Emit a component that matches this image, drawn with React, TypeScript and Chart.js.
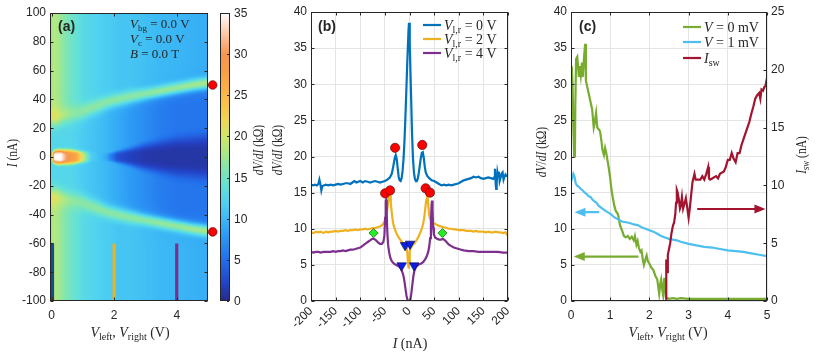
import React, { useEffect, useRef } from 'react';
import { Chart, registerables } from 'chart.js';
Chart.register(...registerables);

type Seg = [string, string];
type P = [number, number];

const SANS = '"Liberation Sans", Arial, Helvetica, sans-serif';
const SERIF = '"Liberation Serif", "Times New Roman", serif';
const AX = '#262626';
const GRID = '#e4e4e4';
const C_BLUE = '#0072BD';
const C_ORANGE = '#EDB120';
const C_PURPLE = '#7E2F8E';
const C_GREEN = '#77AC30';
const C_LBLUE = '#4DBEEE';
const C_RED = '#A2142F';

// ================= (a) heat map: features read column by column =================
const hmV = [0, 0.05, 0.1, 0.2, 0.3, 0.45, 0.6, 0.8, 1.0, 1.25, 1.5, 1.75, 1.9, 2.1, 2.5, 3.0, 3.5, 4.0, 4.5, 5.0];
const hmRidgeI = [29, 29, 29, 29, 29.5, 30, 30.5, 31, 32, 34, 36, 38, 39, 40, 42, 44, 46, 48, 50, 51.5];
const hmRidgeZ = [20, 21, 21, 20, 19, 18, 17, 16.5, 16.5, 16.5, 16.5, 16.5, 16.5, 16.5, 16.5, 16.5, 17, 17, 17.5, 18];
const hmRidgeW = [7, 7, 7, 7, 6.5, 6, 6, 6, 5.5, 5, 5, 4.5, 4.5, 4.5, 4.5, 4, 4, 4, 4, 4];
const hmOuterZ = [17, 18.5, 18.5, 18, 17, 16, 15, 14, 13, 12.5, 12, 11.5, 11.5, 11, 11, 10.5, 10, 9.8, 9.5, 9.2];
const hmInnerZ = [12.5, 12.5, 12.5, 12.5, 12.5, 12.5, 12.5, 12, 11.5, 11, 10.5, 10, 9.5, 9, 8, 7, 6, 5.5, 5.5, 5.5];
const hmCoreZ = [13, 30, 35, 35, 35, 31, 29, 27, 20, 12, 10.5, 9, 6, 3, 1.8, 1.2, 1.0, 1.0, 1.0, 1.0];
const hmCoreW = [3, 4, 4.5, 5, 5, 5, 5, 4.5, 4, 3.5, 3, 3, 3, 4, 6, 9, 11, 13, 14, 15];

const cmZ = [0, 2, 5, 8, 10, 12, 14, 16, 18, 20, 22, 24, 26, 28, 30, 32, 35];
const cmRGB: number[][] = [
  [40, 42, 135], [35, 65, 195], [35, 110, 235], [45, 155, 245], [60, 185, 245], [80, 210, 240],
  [100, 225, 215], [130, 230, 175], [170, 232, 135], [210, 230, 105], [240, 215, 85], [250, 195, 75],
  [250, 175, 70], [248, 158, 70], [247, 150, 80], [250, 190, 150], [255, 255, 255],
];
const cbTicks = [0, 5, 10, 15, 20, 25, 30, 35];
const aXTicks = [0, 2, 4];
const aYTicks = [-100, -80, -60, -40, -20, 0, 20, 40, 60, 80, 100];
const aRedDots: P[] = [[5.15, 50], [5.15, -52]];
const aBarV = [0.03, 2, 4];
const aBarColors = ['#10508a', C_ORANGE, C_PURPLE];
const aBarI = [-60, -100];

// ================= (b) dV/dI vs I =================
const bXTicks = [-200, -150, -100, -50, 0, 50, 100, 150, 200];
const bYTicks = [0, 5, 10, 15, 20, 25, 30, 35, 40];
const bCurve0: P[] = [[-200,16.1],[-196,16.0],[-192,16.1],[-188,16.0],[-185,16.2],[-183,16.8],[-181,16.2],[-179,15.3],[-177,15.9],[-174,16.0],[-170,16.1],[-165,16.0],[-160,16.1],[-155,16.0],[-150,16.1],[-145,16.2],[-140,16.1],[-135,16.2],[-130,16.3],[-125,16.3],[-120,16.2],[-116,16.4],[-112,16.6],[-108,16.4],[-104,16.5],[-100,16.6],[-95,16.4],[-90,16.6],[-85,16.5],[-80,16.4],[-75,16.5],[-70,16.6],[-65,16.5],[-60,16.4],[-55,16.5],[-50,16.6],[-45,16.8],[-40,17.1],[-36,17.6],[-33,18.6],[-30,19.8],[-28,20.2],[-26,19.7],[-24,18.4],[-22,17.2],[-20,16.7],[-18,16.6],[-16,17.0],[-14,18.0],[-12,19.8],[-10,22.5],[-8,26],[-6,30],[-4,34],[-2,37.5],[-1,38.5],[0,38],[1,35.5],[3,29],[5,23.5],[7,19.8],[9,17.8],[11,16.9],[13,16.6],[15,16.6],[17,17.0],[19,17.8],[21,18.8],[23,19.8],[25,20.5],[27,20.6],[29,19.8],[31,18.6],[33,17.8],[36,17.3],[40,17.0],[45,16.7],[50,16.6],[55,16.4],[60,16.2],[65,16.0],[70,16.1],[75,16.0],[80,16.1],[85,16.0],[90,16.1],[95,16.2],[100,16.3],[105,16.5],[110,16.7],[115,16.8],[120,16.9],[125,17.0],[130,17.2],[135,17.1],[140,17.2],[145,17.0],[150,16.9],[155,17.0],[160,17.1],[165,17.0],[170,16.9],[172,17.1],[173.5,18.3],[175,16.2],[176,15.5],[177,16.4],[178.5,17.8],[180,17.2],[181.5,17.9],[183,16.6],[185,17.1],[187,17.6],[189,17.8],[191,16.8],[193,17.2],[195,17.5],[197,17.3],[200,17.3]];
const bCurve2: P[] = [[-200,9.5],[-195,9.4],[-190,9.6],[-185,9.5],[-180,9.6],[-175,9.4],[-170,9.6],[-165,9.5],[-160,9.6],[-155,9.6],[-150,9.7],[-145,9.6],[-140,9.7],[-135,9.7],[-130,9.8],[-125,9.7],[-120,9.8],[-115,9.8],[-110,9.9],[-105,9.8],[-100,9.9],[-95,9.9],[-90,10.0],[-85,9.9],[-80,10.0],[-75,10.1],[-70,10.1],[-65,10.2],[-60,10.3],[-56,10.5],[-52,10.8],[-49,11.3],[-47,11.9],[-45,12.8],[-43,13.8],[-41,14.5],[-39.5,14.6],[-38,13.6],[-36,12.2],[-34,11.1],[-32,10.4],[-29,9.8],[-26,9.3],[-23,8.9],[-20,8.6],[-17,8.3],[-14,8.1],[-11,7.8],[-8,7.6],[-6,7.4],[-4.5,6.8],[-3,5.2],[-1.5,4.5],[-0.5,5.4],[0.5,6.8],[2,7.3],[4,7.5],[7,7.8],[10,8.0],[13,8.3],[16,8.6],[19,9.0],[22,9.5],[25,10.0],[28,10.8],[30,11.6],[32,12.8],[34,14.0],[35.5,14.5],[37,14.2],[38.5,13.0],[40,11.9],[42,11.3],[45,11.0],[48,10.8],[52,10.7],[56,10.5],[60,10.4],[65,10.3],[70,10.2],[75,10.1],[80,10.0],[85,10.0],[90,9.9],[95,9.9],[100,9.8],[105,9.8],[110,9.8],[115,9.7],[120,9.7],[125,9.7],[130,9.6],[135,9.7],[140,9.6],[145,9.6],[150,9.6],[155,9.5],[160,9.6],[165,9.5],[170,9.5],[175,9.6],[180,9.5],[185,9.5],[190,9.4],[195,9.5],[198,9.2],[200,9.3]];
const bCurve4: P[] = [[-200,6.8],[-195,6.7],[-190,6.8],[-185,6.8],[-180,6.7],[-175,6.8],[-170,6.8],[-165,6.8],[-160,6.8],[-155,6.9],[-150,6.8],[-145,6.9],[-140,6.9],[-135,7.0],[-130,6.9],[-125,7.0],[-120,7.1],[-115,7.1],[-110,7.2],[-105,7.3],[-100,7.4],[-96,7.6],[-92,7.8],[-88,8.0],[-84,8.2],[-80,8.4],[-76,8.6],[-72,8.6],[-68,8.4],[-64,8.1],[-60,7.9],[-56,7.9],[-53,8.2],[-51,9.0],[-49.5,11.5],[-48.2,13.8],[-47.2,14.0],[-46.2,12.0],[-45,9.5],[-43.5,7.8],[-41.5,6.8],[-39,6.0],[-36,5.5],[-32,5.2],[-28,5.0],[-24,4.9],[-20,4.7],[-17,4.4],[-14,3.9],[-12,3.4],[-10,2.6],[-8,1.6],[-6,0.7],[-4,0.1],[-2,0.0],[0,0.0],[2,0.3],[4,1.2],[6,2.4],[8,3.5],[10,4.2],[13,4.7],[16,4.9],[20,5.1],[24,5.2],[28,5.4],[32,5.8],[35,6.2],[38,6.8],[40,7.5],[42,8.7],[43.5,10.8],[44.8,13.3],[45.8,13.9],[46.8,12.6],[48,10.2],[49.5,9.2],[52,8.8],[56,8.6],[60,8.5],[64,8.5],[68,8.6],[72,8.4],[76,8.1],[80,7.8],[85,7.6],[90,7.4],[95,7.3],[100,7.2],[105,7.1],[110,7.0],[120,6.9],[130,6.9],[140,6.8],[150,6.8],[160,6.8],[170,6.8],[180,6.8],[190,6.7],[200,6.7]];
const bRedDots: P[] = [[-49.5, 14.9], [-39.5, 15.3], [-29.3, 21.2], [25.9, 21.6], [32.8, 15.6], [41.5, 15.0]];
const bTriangles: P[] = [[-9, 7.7], [1, 7.9], [-16, 4.9], [9.5, 4.9]];
const bDiamonds: P[] = [[-73, 9.4], [67, 9.4]];
const bLegend = ['0', '2', '4'];

// ================= (c) dV/dI and I_sw vs V =================
const cXTicks = [0, 1, 2, 3, 4, 5];
const cYTicks = [0, 5, 10, 15, 20, 25, 30, 35, 40];
const cY2Ticks = [0, 5, 10, 15, 20, 25];
const cGreen: P[] = [[0,29],[0.02,32.5],[0.04,30],[0.06,24],[0.08,20],[0.1,20.5],[0.11,27],[0.13,33.5],[0.16,33.8],[0.18,32.5],[0.2,31],[0.22,32.5],[0.25,31.2],[0.28,33],[0.3,31],[0.33,33.5],[0.36,35.6],[0.38,30.5],[0.42,29.5],[0.46,28.5],[0.5,27.5],[0.54,26.5],[0.58,24],[0.6,24.5],[0.64,26],[0.67,24],[0.7,23.8],[0.74,23.5],[0.78,22],[0.8,21],[0.84,20.2],[0.87,21.2],[0.9,20.5],[0.93,19.5],[0.97,18.2],[1.0,17],[1.03,15.5],[1.06,14.5],[1.1,13.3],[1.14,12.5],[1.2,12],[1.25,10.5],[1.3,9.8],[1.35,9.0],[1.4,8.8],[1.45,9.0],[1.5,8.6],[1.55,8.9],[1.6,8.4],[1.63,9.0],[1.67,7.8],[1.7,8.3],[1.73,7.4],[1.77,6.8],[1.8,7.0],[1.83,5.8],[1.86,5.0],[1.9,5.8],[1.93,6.3],[1.96,5.5],[2.0,5.2],[2.05,4.6],[2.1,4.3],[2.15,3.5],[2.2,3.0],[2.23,1.8],[2.25,1.0],[2.28,2.5],[2.3,3.0],[2.33,1.5],[2.35,0.8],[2.38,3.2],[2.4,2.0],[2.42,0.5],[2.45,0.4],[2.5,0.3],[2.6,0.4],[2.7,0.3],[2.8,0.4],[3.0,0.3],[3.5,0.3],[4.0,0.3],[4.5,0.3],[5.0,0.3]];
const cLBlue: P[] = [[0,16.5],[0.03,17.0],[0.06,17.6],[0.09,17.2],[0.12,16.3],[0.15,16.0],[0.2,15.8],[0.25,15.5],[0.3,15.3],[0.35,15.0],[0.4,14.8],[0.45,14.5],[0.5,14.4],[0.55,14.0],[0.6,13.8],[0.65,13.6],[0.7,13.2],[0.75,13.0],[0.8,12.8],[0.9,12.4],[1.0,12.1],[1.1,11.6],[1.2,11.3],[1.3,11.0],[1.4,10.9],[1.5,10.8],[1.6,10.6],[1.7,10.5],[1.8,10.2],[1.9,10.0],[2.0,9.8],[2.1,9.6],[2.2,9.3],[2.3,9.0],[2.4,8.8],[2.5,8.6],[2.6,8.5],[2.7,8.4],[2.8,8.2],[3.0,7.9],[3.2,7.7],[3.4,7.5],[3.6,7.4],[3.8,7.2],[4.0,7.0],[4.2,6.9],[4.4,6.8],[4.6,6.6],[4.8,6.4],[5.0,6.2]];
const cIsw: P[] = [[0,0],[2.43,0],[2.43,3.6],[2.45,2.5],[2.47,4.0],[2.5,4.5],[2.53,5.0],[2.56,5.8],[2.6,6.5],[2.63,6.8],[2.66,7.5],[2.68,8.5],[2.7,9.6],[2.72,9.4],[2.75,8.8],[2.78,8.0],[2.8,8.2],[2.83,9.0],[2.86,8.0],[2.9,8.5],[2.93,8.9],[2.96,8.2],[3.0,7.2],[3.03,8.0],[3.06,9.0],[3.1,10.3],[3.15,11.0],[3.18,10.5],[3.22,10.5],[3.3,10.5],[3.35,10.8],[3.4,10.5],[3.45,11.0],[3.5,11.6],[3.52,10.6],[3.55,10.5],[3.6,10.6],[3.7,10.8],[3.75,10.6],[3.8,11.0],[3.9,11.2],[3.95,11.6],[4.0,12.2],[4.05,12.2],[4.1,12.8],[4.15,12.3],[4.2,12.0],[4.25,12.8],[4.3,12.8],[4.35,13.5],[4.4,14.0],[4.45,14.5],[4.5,15.0],[4.55,15.5],[4.6,16.2],[4.65,16.8],[4.7,17.5],[4.75,17.8],[4.8,18.0],[4.83,17.5],[4.86,18.3],[4.9,18.2],[4.93,18.5],[4.96,18.6],[5.0,19.3]];
const cArrowFrom = [0.72, 1.72, 3.22];
const cArrowTo = [0.09, 0.07, 4.96];
const cArrowLevel = [12.3, 6.15, 7.96];
const cArrowAxis = ['y', 'y', 'y2'];
const cArrowColor = [C_LBLUE, C_GREEN, C_RED];

// ================= helpers =================
const toXY = (a: P[]) => a.map(([x, y]) => ({ x, y }));

function lin(xs: number[], ys: number[], v: number) {
  if (v <= xs[0]) return ys[0];
  for (let i = 1; i < xs.length; i++) {
    if (v <= xs[i]) {
      const t = (v - xs[i - 1]) / (xs[i] - xs[i - 1]);
      return ys[i - 1] + t * (ys[i] - ys[i - 1]);
    }
  }
  return ys[ys.length - 1];
}

function cmap(z: number): number[] {
  const zz = Math.max(0, Math.min(35, z));
  for (let i = 1; i < cmZ.length; i++) {
    if (zz <= cmZ[i]) {
      const t = (zz - cmZ[i - 1]) / (cmZ[i] - cmZ[i - 1]);
      const a = cmRGB[i - 1], b = cmRGB[i];
      return [a[0] + t * (b[0] - a[0]), a[1] + t * (b[1] - a[1]), a[2] + t * (b[2] - a[2])];
    }
  }
  return cmRGB[cmRGB.length - 1];
}

function heatZ(V: number, I: number) {
  const a = Math.abs(I);
  const rI = lin(hmV, hmRidgeI, V), rZ = lin(hmV, hmRidgeZ, V), rW = lin(hmV, hmRidgeW, V);
  const oZ = lin(hmV, hmOuterZ, V), iZ = lin(hmV, hmInnerZ, V);
  const cZ = lin(hmV, hmCoreZ, V), cW = lin(hmV, hmCoreW, V);
  const core = Math.exp(-Math.pow(a / cW, 4));
  const inside = iZ + (cZ - iZ) * core;
  const s = 1 / (1 + Math.exp(-(a - rI) / 3));
  const base = inside * (1 - s) + oZ * s;
  const r = Math.exp(-Math.pow((a - rI) / rW, 2));
  return base + (rZ - base) * r;
}

function drawRich(ctx: CanvasRenderingContext2D, segs: Seg[], x: number, y: number, size: number,
  align: 'left' | 'center' | 'right' = 'center', rot = 0, sx = 1, color = AX) {
  ctx.save();
  ctx.translate(x, y);
  ctx.rotate(rot);
  ctx.scale(sx, 1);
  ctx.fillStyle = color;
  ctx.textBaseline = 'alphabetic';
  ctx.textAlign = 'left';
  const font = (st: string) =>
    st === 'i' ? `italic ${size}px ${SERIF}` :
    st === 'b' ? `bold ${size}px ${SANS}` :
    st === 's' ? `${Math.round(size * 0.7)}px ${SERIF}` : `${size}px ${SERIF}`;
  let w = 0;
  for (const [t, st] of segs) { ctx.font = font(st); w += ctx.measureText(t).width; }
  let cx = align === 'center' ? -w / 2 : align === 'right' ? -w : 0;
  const base = size * 0.35;
  for (const [t, st] of segs) {
    ctx.font = font(st);
    ctx.fillText(t, cx, base + (st === 's' ? size * 0.25 : 0));
    cx += ctx.measureText(t).width;
  }
  ctx.restore();
}

function drawFrame(chart: any, xId: string, yLeft: string, yRight: string) {
  const { ctx, chartArea: ca, scales } = chart;
  const L = Math.round(ca.left) + 0.5, R = Math.round(ca.right) - 0.5;
  const T = Math.round(ca.top) + 0.5, B = Math.round(ca.bottom) - 0.5;
  ctx.save();
  ctx.strokeStyle = AX;
  ctx.lineWidth = 1;
  ctx.strokeRect(L, T, R - L, B - T);
  const tl = 3;
  ctx.beginPath();
  const xs = scales[xId];
  xs.ticks.forEach((t: any) => {
    const px = Math.round(xs.getPixelForValue(t.value)) + 0.5;
    ctx.moveTo(px, B); ctx.lineTo(px, B - tl);
    ctx.moveTo(px, T); ctx.lineTo(px, T + tl);
  });
  const yl = scales[yLeft];
  yl.ticks.forEach((t: any) => {
    const py = Math.round(yl.getPixelForValue(t.value)) + 0.5;
    ctx.moveTo(L, py); ctx.lineTo(L + tl, py);
  });
  const yr = scales[yRight];
  yr.ticks.forEach((t: any) => {
    const py = Math.round(yr.getPixelForValue(t.value)) + 0.5;
    ctx.moveTo(R, py); ctx.lineTo(R - tl, py);
  });
  ctx.stroke();
  ctx.restore();
}

const tickFont = { family: SANS, size: 12 };

function linAxis(min: number, max: number, ticks: number[], opts: any = {}) {
  return {
    type: 'linear',
    min, max,
    position: opts.position,
    display: opts.display !== undefined ? opts.display : true,
    afterBuildTicks: (s: any) => { s.ticks = ticks.map((v) => ({ value: v })); },
    afterFit: opts.afterFit,
    grid: { display: opts.grid !== false, color: GRID, drawTicks: false, lineWidth: 1 },
    border: { display: false },
    ticks: {
      font: tickFont, color: AX, padding: opts.padding ?? 4, autoSkip: false,
      minRotation: opts.rot ?? 0, maxRotation: opts.rot ?? 0,
    },
  };
}

const baseOpts = (pad: any) => ({
  responsive: false,
  animation: false,
  events: [],
  layout: { padding: pad },
  plugins: { legend: { display: false }, tooltip: { enabled: false } },
});

// ================= chart configs =================
const A_LEFT = 0, A_W = 265;
const B_LEFT = 265, B_W = 265;
const C_LEFT = 530, C_W = 287;
const DVDI: Seg[] = [['dV', 'i'], ['/', 'r'], ['dI', 'i'], [' (kΩ)', 'r']];
const VLR: Seg[] = [['V', 'i'], ['left', 's'], [', ', 'r'], ['V', 'i'], ['right', 's'], [' (V)', 'r']];
const ROT = -Math.PI / 2;
const SQ = 0.82;

function makeA() {
  const ox = A_LEFT;
  const heatPlugin = {
    id: 'heat',
    beforeDatasetsDraw(chart: any) {
      const { ctx, chartArea: ca, scales: { x, y } } = chart;
      const L = Math.round(ca.left) + 1, T = Math.round(ca.top) + 1;
      const R = Math.round(ca.right) - 1, B = Math.round(ca.bottom) - 1;
      const w = R - L, h = B - T;
      const img = ctx.createImageData(w, h);
      for (let i = 0; i < w; i++) {
        const V = Math.max(0, x.getValueForPixel(L + i + 0.5));
        for (let j = 0; j < h; j++) {
          const I = y.getValueForPixel(T + j + 0.5);
          const c = cmap(heatZ(V, I));
          const k = (j * w + i) * 4;
          img.data[k] = c[0]; img.data[k + 1] = c[1]; img.data[k + 2] = c[2]; img.data[k + 3] = 255;
        }
      }
      ctx.putImageData(img, L, T);
    },
    afterDraw(chart: any) {
      const { ctx, chartArea: ca } = chart;
      drawFrame(chart, 'x', 'y', 'y');
      // colorbar
      const cbL = 220 - ox, cbR = 230 - ox;
      const T = Math.round(ca.top), B = Math.round(ca.bottom);
      for (let py = T; py < B; py++) {
        const z = 35 * (B - (py + 0.5)) / (B - T);
        const c = cmap(z);
        ctx.fillStyle = `rgb(${c[0] | 0},${c[1] | 0},${c[2] | 0})`;
        ctx.fillRect(cbL, py, cbR - cbL, 1);
      }
      ctx.save();
      ctx.strokeStyle = AX; ctx.lineWidth = 1;
      ctx.strokeRect(cbL + 0.5, T + 0.5, cbR - cbL - 1, B - T - 1);
      ctx.fillStyle = AX; ctx.font = `12px ${SANS}`; ctx.textAlign = 'left'; ctx.textBaseline = 'middle';
      ctx.beginPath();
      cbTicks.forEach((t) => {
        const py = Math.round(B - (t / 35) * (B - T)) + 0.5;
        ctx.moveTo(cbR - 1, py); ctx.lineTo(cbR - 3, py);
        ctx.fillText(String(t), cbR + 4, py);
      });
      ctx.stroke();
      ctx.restore();
      // labels
      drawRich(ctx, [['(a)', 'b']], 58 - ox, 26, 14, 'left');
      drawRich(ctx, [['V', 'i'], ['bg', 's'], [' = 0.0 V', 'r']], 130 - ox, 23, 13, 'left');
      drawRich(ctx, [['V', 'i'], ['c', 's'], [' = 0.0 V', 'r']], 130 - ox, 38, 13, 'left');
      drawRich(ctx, [['B', 'i'], [' = 0.0 T', 'r']], 130 - ox, 53, 13, 'left');
      drawRich(ctx, [['I', 'i'], [' (nA)', 'r']], 12 - ox, 153, 14, 'center', ROT, SQ);
      drawRich(ctx, VLR, 130 - ox, 332, 14);
      drawRich(ctx, DVDI, 258 - ox, 150, 14, 'center', ROT, SQ);
    },
  };
  const datasets: any[] = [
    {
      type: 'scatter', data: toXY(aRedDots), clip: false, order: 0,
      pointRadius: 4.3, pointBackgroundColor: '#ff0000', pointBorderColor: '#5a1010', pointBorderWidth: 0.7,
    },
    ...aBarV.map((v, i) => ({
      type: 'line', data: aBarI.map((I) => ({ x: v, y: I })), borderColor: aBarColors[i],
      borderWidth: 3.2, pointRadius: 0, order: 1,
    })),
  ];
  return {
    type: 'scatter',
    data: { datasets },
    options: {
      ...baseOpts({ left: 0, right: A_W - 208, top: 13, bottom: 0 }),
      scales: {
        x: linAxis(-0.05, 5.0, aXTicks, { grid: false, padding: 7, afterFit: (s: any) => { s.height = 354 - 301; } }),
        y: linAxis(-100, 100, aYTicks, { grid: false, padding: 4, afterFit: (s: any) => { s.width = 50; } }),
      },
    },
    plugins: [heatPlugin],
  };
}

function makeB() {
  const ox = B_LEFT;
  const deco = {
    id: 'decoB',
    afterDraw(chart: any) {
      const { ctx } = chart;
      drawFrame(chart, 'x', 'y', 'y');
      drawRich(ctx, [['(b)', 'b']], 318 - ox, 26, 14, 'left');
      const cols = [C_BLUE, C_ORANGE, C_PURPLE];
      const ys = [25, 39, 53];
      ctx.save();
      ctx.lineWidth = 2.2;
      cols.forEach((c, i) => {
        ctx.strokeStyle = c;
        ctx.beginPath(); ctx.moveTo(423 - ox, ys[i]); ctx.lineTo(441 - ox, ys[i]); ctx.stroke();
        drawRich(ctx, [['V', 'i'], ['l,r', 's'], [` = ${bLegend[i]} V`, 'r']], 444 - ox, ys[i], 14, 'left');
      });
      ctx.restore();
      drawRich(ctx, DVDI, 277 - ox, 150, 14, 'center', ROT, SQ);
      drawRich(ctx, [['I', 'i'], [' (nA)', 'r']], 410 - ox, 343, 14);
    },
  };
  const line = (d: P[], c: string, o: number) => ({
    type: 'line', data: toXY(d), borderColor: c, borderWidth: 2.2, pointRadius: 0, order: o, tension: 0,
  });
  const datasets: any[] = [
    { type: 'scatter', data: toXY(bRedDots), order: 0, pointRadius: 4.6, pointBackgroundColor: '#ff0000', pointBorderColor: '#5a1010', pointBorderWidth: 0.7 },
    { type: 'scatter', data: toXY(bTriangles), order: 0, pointStyle: 'triangle', pointRotation: 180, pointRadius: 5.5, pointBackgroundColor: '#0a1ee6', pointBorderColor: '#101050', pointBorderWidth: 0.7 },
    { type: 'scatter', data: toXY(bDiamonds), order: 0, pointStyle: 'rectRot', pointRadius: 4.6, pointBackgroundColor: '#22ee22', pointBorderColor: '#205020', pointBorderWidth: 0.7 },
    line(bCurve0, C_BLUE, 3),
    line(bCurve2, C_ORANGE, 2),
    line(bCurve4, C_PURPLE, 1),
  ];
  return {
    type: 'scatter',
    data: { datasets },
    options: {
      ...baseOpts({ left: 0, right: B_LEFT + B_W - 508, top: 12, bottom: 0 }),
      scales: {
        x: linAxis(-200, 200, bXTicks, { padding: 3, rot: 45, afterFit: (s: any) => { s.height = 354 - 301; } }),
        y: linAxis(0, 40, bYTicks, { padding: 4, afterFit: (s: any) => { s.width = 311 - B_LEFT; } }),
      },
    },
    plugins: [deco],
  };
}

function makeC() {
  const ox = C_LEFT;
  const deco = {
    id: 'decoC',
    afterDraw(chart: any) {
      const { ctx, scales } = chart;
      drawFrame(chart, 'x', 'y', 'y2');
      // arrows
      ctx.save();
      cArrowFrom.forEach((v0, i) => {
        const ys = scales[cArrowAxis[i]];
        const x0 = scales.x.getPixelForValue(v0), x1 = scales.x.getPixelForValue(cArrowTo[i]);
        const py = ys.getPixelForValue(cArrowLevel[i]);
        const dir = Math.sign(x1 - x0);
        const head = 11;
        ctx.strokeStyle = cArrowColor[i]; ctx.fillStyle = cArrowColor[i]; ctx.lineWidth = 2.2;
        ctx.beginPath(); ctx.moveTo(x0, py); ctx.lineTo(x1 - dir * head * 0.8, py); ctx.stroke();
        ctx.beginPath(); ctx.moveTo(x1, py); ctx.lineTo(x1 - dir * head, py - 4.5); ctx.lineTo(x1 - dir * head, py + 4.5); ctx.closePath(); ctx.fill();
      });
      ctx.restore();
      drawRich(ctx, [['(c)', 'b']], 579 - ox, 26, 14, 'left');
      const cols = [C_GREEN, C_LBLUE, C_RED];
      const lys = [27, 42, 58];
      const texts: Seg[][] = [
        [['V', 'i'], [' = 0 mV', 'r']],
        [['V', 'i'], [' = 1 mV', 'r']],
        [['I', 'i'], ['sw', 's']],
      ];
      ctx.save();
      ctx.lineWidth = 2.2;
      cols.forEach((c, i) => {
        ctx.strokeStyle = c;
        ctx.beginPath(); ctx.moveTo(683 - ox, lys[i]); ctx.lineTo(701 - ox, lys[i]); ctx.stroke();
        drawRich(ctx, texts[i], 704 - ox, lys[i], 14, 'left');
      });
      ctx.restore();
      drawRich(ctx, DVDI, 541 - ox, 152, 14, 'center', ROT, SQ);
      drawRich(ctx, [['I', 'i'], ['sw', 's'], [' (nA)', 'r']], 801 - ox, 155, 14, 'center', ROT, SQ);
      drawRich(ctx, VLR, 668 - ox, 332, 14);
    },
  };
  const line = (d: P[], c: string, o: number, axis: string) => ({
    type: 'line', data: toXY(d), borderColor: c, borderWidth: 2.2, pointRadius: 0, order: o, yAxisID: axis, tension: 0,
  });
  return {
    type: 'scatter',
    data: { datasets: [line(cIsw, C_RED, 1, 'y2'), line(cLBlue, C_LBLUE, 2, 'y'), line(cGreen, C_GREEN, 3, 'y')] },
    options: {
      ...baseOpts({ left: 0, right: 0, top: 12, bottom: 0 }),
      scales: {
        x: linAxis(0, 5, cXTicks, { padding: 7, afterFit: (s: any) => { s.height = 354 - 301; } }),
        y: linAxis(0, 40, cYTicks, { position: 'left', padding: 4, afterFit: (s: any) => { s.width = 571 - C_LEFT; } }),
        y2: linAxis(0, 25, cY2Ticks, { position: 'right', grid: false, padding: 4, afterFit: (s: any) => { s.width = C_LEFT + C_W - 767; } }),
      },
    },
    plugins: [deco],
  };
}

function ChartBox({ left, width, make }: { left: number; width: number; make: () => any }) {
  const ref = useRef<HTMLCanvasElement>(null);
  useEffect(() => {
    const chart = new Chart(ref.current as HTMLCanvasElement, make());
    return () => chart.destroy();
  }, []);
  return (
    <canvas ref={ref} width={width} height={354}
      style={{ position: 'absolute', left, top: 0, width, height: 354, display: 'block' }} />
  );
}

export default function App() {
  return (
    <div style={{ position: 'fixed', left: 0, top: 0, width: 817, height: 354, background: '#ffffff', overflow: 'hidden' }}>
      <ChartBox left={A_LEFT} width={A_W} make={makeA} />
      <ChartBox left={B_LEFT} width={B_W} make={makeB} />
      <ChartBox left={C_LEFT} width={C_W} make={makeC} />
    </div>
  );
}
